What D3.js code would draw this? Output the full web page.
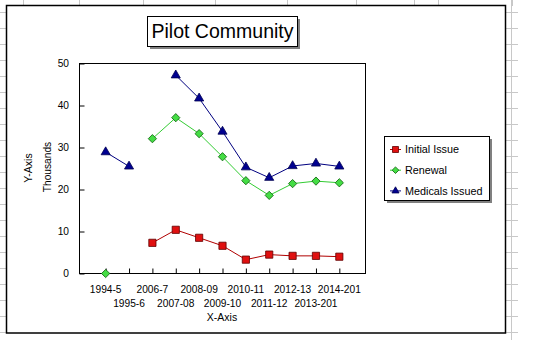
<!DOCTYPE html>
<html>
<head>
<meta charset="utf-8">
<script src="https://cdn.jsdelivr.net/npm/d3@7"></script>
<style>
  body { margin: 0; background: #fff; }
  svg { display: block; font-family: "Liberation Sans", Arial, sans-serif; }
</style>
</head>
<body>
<svg id="chart" width="538" height="359"></svg>
<script>
const categories = ["1994-5", "1995-6", "2006-7", "2007-08", "2008-09", "2009-10",
  "2010-11", "2011-12", "2012-13", "2013-201", "2014-201"];
const initialIssue = [null, null, 7.3, 10.4, 8.5, 6.6, 3.3, 4.5, 4.2, 4.2, 4.0];
const renewal = [0, null, 32.1, 37.1, 33.3, 27.8, 22.1, 18.6, 21.4, 22.0, 21.6];
const medicals = [28.9, 25.5, null, 47.2, 41.7, 33.8, 25.3, 22.8, 25.6, 26.2, 25.5];
const yTicks = [0, 10, 20, 30, 40, 50];
const gridCols = [23, 79, 143, 215, 287, 356, 414, 438, 512];

const series = [
  { name: "Initial Issue", values: initialIssue, line: "#b00000", fill: "#e01010", stroke: "#600000", shape: "square" },
  { name: "Renewal", values: renewal, line: "#33cc33", fill: "#44dd44", stroke: "#116611", shape: "diamond" },
  { name: "Medicals Issued", values: medicals, line: "#000080", fill: "#000090", stroke: "#000050", shape: "triangle" },
];

const svg = d3.select("#chart");

// spreadsheet gridlines behind the chart object
const grid = svg.append("g").attr("stroke", "#c8c8c8").attr("stroke-width", 1);
gridCols.forEach((x) => {
  grid.append("line").attr("x1", x + 0.5).attr("x2", x + 0.5).attr("y1", 0).attr("y2", 6);
});
grid.append("line").attr("x1", 511.5).attr("x2", 511.5).attr("y1", 0).attr("y2", 340);
d3.range(12, 340, 16).forEach((y) => {
  grid.append("line").attr("x1", 0).attr("x2", 6).attr("y1", y + 0.5).attr("y2", y + 0.5);
  grid.append("line").attr("x1", 505).attr("x2", 518).attr("y1", y + 0.5).attr("y2", y + 0.5);
});

// chart frame
svg.append("rect").attr("x", 6.5).attr("y", 5.5).attr("width", 499).attr("height", 327.5)
  .attr("fill", "#fff").attr("stroke", "#000").attr("stroke-width", 1.5);

// title box
svg.append("rect").attr("x", 150).attr("y", 19).attr("width", 150).attr("height", 30).attr("fill", "#808080");
svg.append("rect").attr("x", 147.5).attr("y", 16.5).attr("width", 150).attr("height", 30)
  .attr("fill", "#fff").attr("stroke", "#000");
svg.append("text").attr("x", 222.5).attr("y", 38).attr("text-anchor", "middle")
  .attr("font-size", 19.5).text("Pilot Community");

const plot = { left: 79.5, right: 365.5, top: 63.5, bottom: 273.5 };

const x = d3.scalePoint().domain(categories).range([plot.left, plot.right]).padding(1.12);
const y = d3.scaleLinear().domain([0, 50]).range([plot.bottom, plot.top]);

svg.append("rect").attr("x", plot.left).attr("y", plot.top)
  .attr("width", plot.right - plot.left).attr("height", plot.bottom - plot.top)
  .attr("fill", "none").attr("stroke", "#000");

// y axis
const yAxis = svg.append("g").attr("transform", `translate(${plot.left},0)`)
  .call(d3.axisRight(y).tickValues(yTicks).tickSize(5).tickFormat(""));
yAxis.select(".domain").remove();
svg.append("g").selectAll("text").data(yTicks).join("text")
  .attr("x", 69).attr("y", (d) => y(d) + 3.5).attr("text-anchor", "end")
  .attr("font-size", 10.2).text((d) => d);

// x axis
const xAxis = svg.append("g").attr("transform", `translate(0,${plot.bottom})`)
  .call(d3.axisTop(x).tickSize(5).tickFormat(""));
xAxis.select(".domain").remove();
svg.append("g").selectAll("text").data(categories).join("text")
  .attr("x", (d) => x(d)).attr("y", (d, i) => (i % 2 === 0 ? 293 : 306.5))
  .attr("text-anchor", "middle").attr("font-size", 10.2).text((d) => d);

svg.append("text").attr("x", 222).attr("y", 320.5).attr("text-anchor", "middle")
  .attr("font-size", 10.5).text("X-Axis");
svg.append("text").attr("transform", "translate(32,168) rotate(-90)").attr("text-anchor", "middle")
  .attr("font-size", 10.5).text("Y-Axis");
svg.append("text").attr("transform", "translate(51,167) rotate(-90)").attr("text-anchor", "middle")
  .attr("font-size", 10.2).text("Thousands");

const symbolPath = {
  square: d3.symbol().type(d3.symbolSquare).size(52),
  diamond: d3.symbol().type(d3.symbolSquare).size(34),
  triangle: d3.symbol().type(d3.symbolTriangle).size(36),
};
const rot = (shape) => (shape === "diamond" ? " rotate(45)" : "");

const line = d3.line()
  .defined((d) => d.v !== null)
  .x((d) => x(d.c))
  .y((d) => y(d.v));

series.forEach((s) => {
  const pts = categories.map((c, i) => ({ c, v: s.values[i] }));
  svg.append("path").datum(pts).attr("d", line)
    .attr("fill", "none").attr("stroke", s.line).attr("stroke-width", 1);
  svg.append("g").selectAll("path").data(pts.filter((d) => d.v !== null)).join("path")
    .attr("transform", (d) => `translate(${x(d.c)},${y(d.v)})${rot(s.shape)}`)
    .attr("d", symbolPath[s.shape])
    .attr("fill", s.fill).attr("stroke", s.stroke).attr("stroke-width", 0.8);
});

// legend
const legend = svg.append("g");
legend.append("rect").attr("x", 387).attr("y", 139).attr("width", 105).attr("height", 64).attr("fill", "#808080");
legend.append("rect").attr("x", 384.5).attr("y", 136.5).attr("width", 105).attr("height", 64)
  .attr("fill", "#fff").attr("stroke", "#000");
series.forEach((s, i) => {
  const cy = 149.5 + i * 20.7;
  legend.append("line").attr("x1", 390).attr("x2", 401).attr("y1", cy).attr("y2", cy)
    .attr("stroke", s.line);
  legend.append("path").attr("transform", `translate(395.5,${cy})${rot(s.shape)}`)
    .attr("d", symbolPath[s.shape].size(s.shape === "square" ? 36 : 22)())
    .attr("fill", s.fill).attr("stroke", s.stroke).attr("stroke-width", 0.8);
  legend.append("text").attr("x", 405).attr("y", cy + 3.8).attr("font-size", 10.8).text(s.name);
});
</script>
</body>
</html>
